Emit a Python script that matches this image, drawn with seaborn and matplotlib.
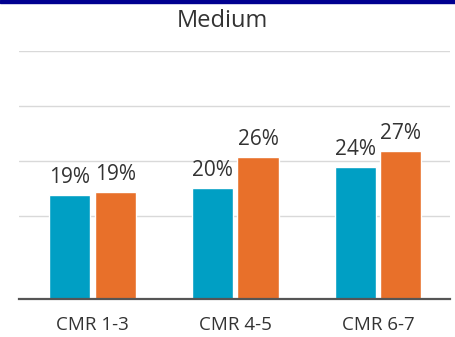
import matplotlib
matplotlib.use("Agg")
import matplotlib.pyplot as plt
import seaborn as sns
import pandas as pd
from matplotlib.patches import Rectangle

# data
categories = ["CMR 1-3", "CMR 4-5", "CMR 6-7"]
series_names = ["Series 1", "Series 2"]
teal_vals = [18.8, 20.2, 23.9]
orange_vals = [19.4, 25.8, 26.9]
grid_ticks = [15, 25, 35, 45]

TEAL = "#009FC4"
ORANGE = "#E8702A"
TEXT = "#333333"

df = pd.DataFrame({
    "cat": categories * 2,
    "series": [series_names[0]] * 3 + [series_names[1]] * 3,
    "value": teal_vals + orange_vals,
})

sns.set_style("white")
plt.rcParams["font.family"] = ["Open Sans", "DejaVu Sans"]

fig = plt.figure(figsize=(4.56, 3.37), dpi=100)
ax = fig.add_axes([19 / 456, 38 / 337, 431 / 456, 248 / 337])

sns.barplot(data=df, x="cat", y="value", hue="series", order=categories,
            hue_order=series_names, palette=[TEAL, ORANGE], width=0.64, gap=0.1,
            saturation=1, legend=False, ax=ax, zorder=2)

for cont in ax.containers:
    ax.bar_label(cont, labels=[f"{v:.0f}%" for v in cont.datavalues],
                 padding=5, fontsize=15, color=TEXT)

ax.set_xlim(-0.515, 2.505)
ax.set_ylim(0, 45)
ax.set_yticks(grid_ticks)
ax.yaxis.grid(True, color="#d9d9d9", linewidth=1, zorder=0)
ax.set_axisbelow(True)
ax.tick_params(axis="y", left=False, labelleft=False)
ax.tick_params(axis="x", bottom=False, pad=9, labelsize=13.5, labelcolor=TEXT)
ax.set_xlabel("")
ax.set_ylabel("")
for s in ["left", "right", "top"]:
    ax.spines[s].set_visible(False)
ax.spines["bottom"].set_color("#555555")
ax.spines["bottom"].set_linewidth(1.6)

fig.text(222 / 456, 1 - 21 / 337, "Medium", ha="center", va="center",
         fontsize=17, color=TEXT)

# navy rule along the top edge
fig.add_artist(Rectangle((0, 1 - 2.5 / 337), 1, 2.5 / 337, transform=fig.transFigure,
                         color="#000090", zorder=5))

fig.savefig("out.png", dpi=100)
